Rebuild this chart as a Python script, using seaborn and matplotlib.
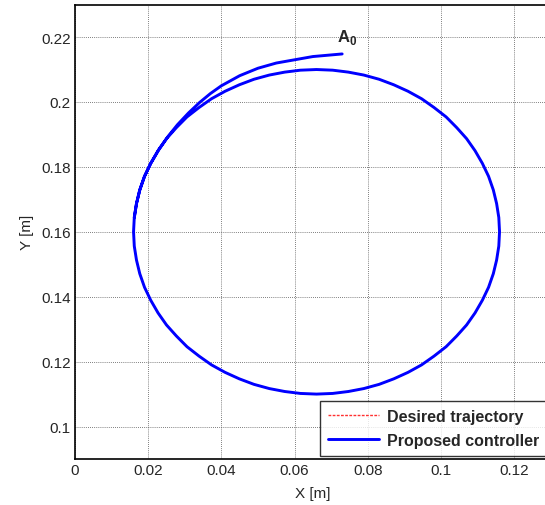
import numpy as np
import pandas as pd
import seaborn as sns
import matplotlib
matplotlib.use("Agg")
import matplotlib.pyplot as plt

# desired circular trajectory (every 5 deg, counter-clockwise from the right)
desired_x = [0.1160, 0.1158, 0.1152, 0.1143, 0.1130, 0.1113, 0.1093, 0.1070, 0.1043, 0.1014,
             0.0981, 0.0947, 0.0910, 0.0871, 0.0831, 0.0789, 0.0747, 0.0704, 0.0660, 0.0616,
             0.0573, 0.0531, 0.0489, 0.0449, 0.0410, 0.0373, 0.0339, 0.0306, 0.0277, 0.0250,
             0.0227, 0.0207, 0.0190, 0.0177, 0.0168, 0.0162, 0.0160, 0.0162, 0.0168, 0.0177,
             0.0190, 0.0207, 0.0227, 0.0250, 0.0277, 0.0306, 0.0339, 0.0373, 0.0410, 0.0449,
             0.0489, 0.0531, 0.0573, 0.0616, 0.0660, 0.0704, 0.0747, 0.0789, 0.0831, 0.0871,
             0.0910, 0.0947, 0.0981, 0.1014, 0.1043, 0.1070, 0.1093, 0.1113, 0.1130, 0.1143,
             0.1152, 0.1158, 0.1160]
desired_y = [0.1600, 0.1644, 0.1687, 0.1729, 0.1771, 0.1811, 0.1850, 0.1887, 0.1921, 0.1954,
             0.1983, 0.2010, 0.2033, 0.2053, 0.2070, 0.2083, 0.2092, 0.2098, 0.2100, 0.2098,
             0.2092, 0.2083, 0.2070, 0.2053, 0.2033, 0.2010, 0.1983, 0.1954, 0.1921, 0.1887,
             0.1850, 0.1811, 0.1771, 0.1729, 0.1687, 0.1644, 0.1600, 0.1556, 0.1513, 0.1471,
             0.1429, 0.1389, 0.1350, 0.1313, 0.1279, 0.1246, 0.1217, 0.1190, 0.1167, 0.1147,
             0.1130, 0.1117, 0.1108, 0.1102, 0.1100, 0.1102, 0.1108, 0.1117, 0.1130, 0.1147,
             0.1167, 0.1190, 0.1217, 0.1246, 0.1279, 0.1313, 0.1350, 0.1389, 0.1429, 0.1471,
             0.1513, 0.1556, 0.1600]

# proposed controller: approach from A0 (outside the circle) until it joins the circle
approach_x = [0.0730, 0.0700, 0.0650, 0.0600, 0.0550, 0.0500, 0.0450, 0.0400, 0.0370, 0.0340,
              0.0310, 0.0280, 0.0255, 0.0230]
approach_y = [0.2148, 0.2145, 0.2140, 0.2130, 0.2120, 0.2104, 0.2081, 0.2050, 0.2026, 0.1998,
              0.1966, 0.1930, 0.1895, 0.1855]

# after joining it tracks the circle: from 155 deg round to 360, then on to 175 deg
ctrl_x = approach_x + desired_x[31:] + desired_x[1:36]
ctrl_y = approach_y + desired_y[31:] + desired_y[1:36]

x_ticks = [0, 0.02, 0.04, 0.06, 0.08, 0.1, 0.12]
x_tick_labels = ["0", "0.02", "0.04", "0.06", "0.08", "0.1", "0.12"]
y_ticks = [0.1, 0.12, 0.14, 0.16, 0.18, 0.2, 0.22]
y_tick_labels = ["0.1", "0.12", "0.14", "0.16", "0.18", "0.2", "0.22"]

desired = pd.DataFrame({"x": desired_x, "y": desired_y})
ctrl = pd.DataFrame({"x": ctrl_x, "y": ctrl_y})

sns.set_style("white")
plt.rcParams['font.family'] = ['Liberation Sans', 'DejaVu Sans']
plt.rcParams['mathtext.fontset'] = 'custom'
plt.rcParams['mathtext.rm'] = 'Liberation Sans'
plt.rcParams['mathtext.bf'] = 'Liberation Sans:bold'

fig = plt.figure(figsize=(5.45, 5.06), dpi=100)
# axes run a little past the right edge, like the cropped original
ax = fig.add_axes([0.1376, 0.0909, 0.873, 0.898])

sns.lineplot(data=desired, x="x", y="y", sort=False, estimator=None, ax=ax,
             color="#ff3030", linestyle=(0, (2, 1)), linewidth=1.0,
             label="Desired trajectory")
sns.lineplot(data=ctrl, x="x", y="y", sort=False, estimator=None, ax=ax,
             color="#0000ff", linewidth=2.1, label="Proposed controller")

ax.set_xlim(0, 0.13)
ax.set_ylim(0.09, 0.23)
ax.set_xticks(x_ticks)
ax.set_xticklabels(x_tick_labels, fontsize=11)
ax.set_yticks(y_ticks)
ax.set_yticklabels(y_tick_labels, fontsize=11)
ax.tick_params(direction="in", length=4, width=0.8, color="black", pad=3)
ax.grid(True, color="#555555", linestyle=(0, (1, 1.5)), linewidth=0.6)
for s in ax.spines.values():
    s.set_color("black")
    s.set_linewidth(1.2)

ax.set_xlabel("X [m]", fontsize=11, labelpad=6)
ax.set_ylabel("Y [m]", fontsize=11, labelpad=5)

ax.text(0.0715, 0.2172, r"$\mathbf{A}_\mathbf{0}$", fontsize=12, ha="left", va="bottom")

leg = ax.legend(loc="lower right", fontsize=11.5, frameon=True, fancybox=False,
                borderaxespad=0.2, handlelength=3.2, handletextpad=0.5,
                borderpad=0.5, labelspacing=0.55)
leg.get_frame().set_edgecolor("black")
leg.get_frame().set_linewidth(1.0)
for t in leg.get_texts():
    t.set_fontweight("bold")

fig.savefig("out.png", dpi=100)
